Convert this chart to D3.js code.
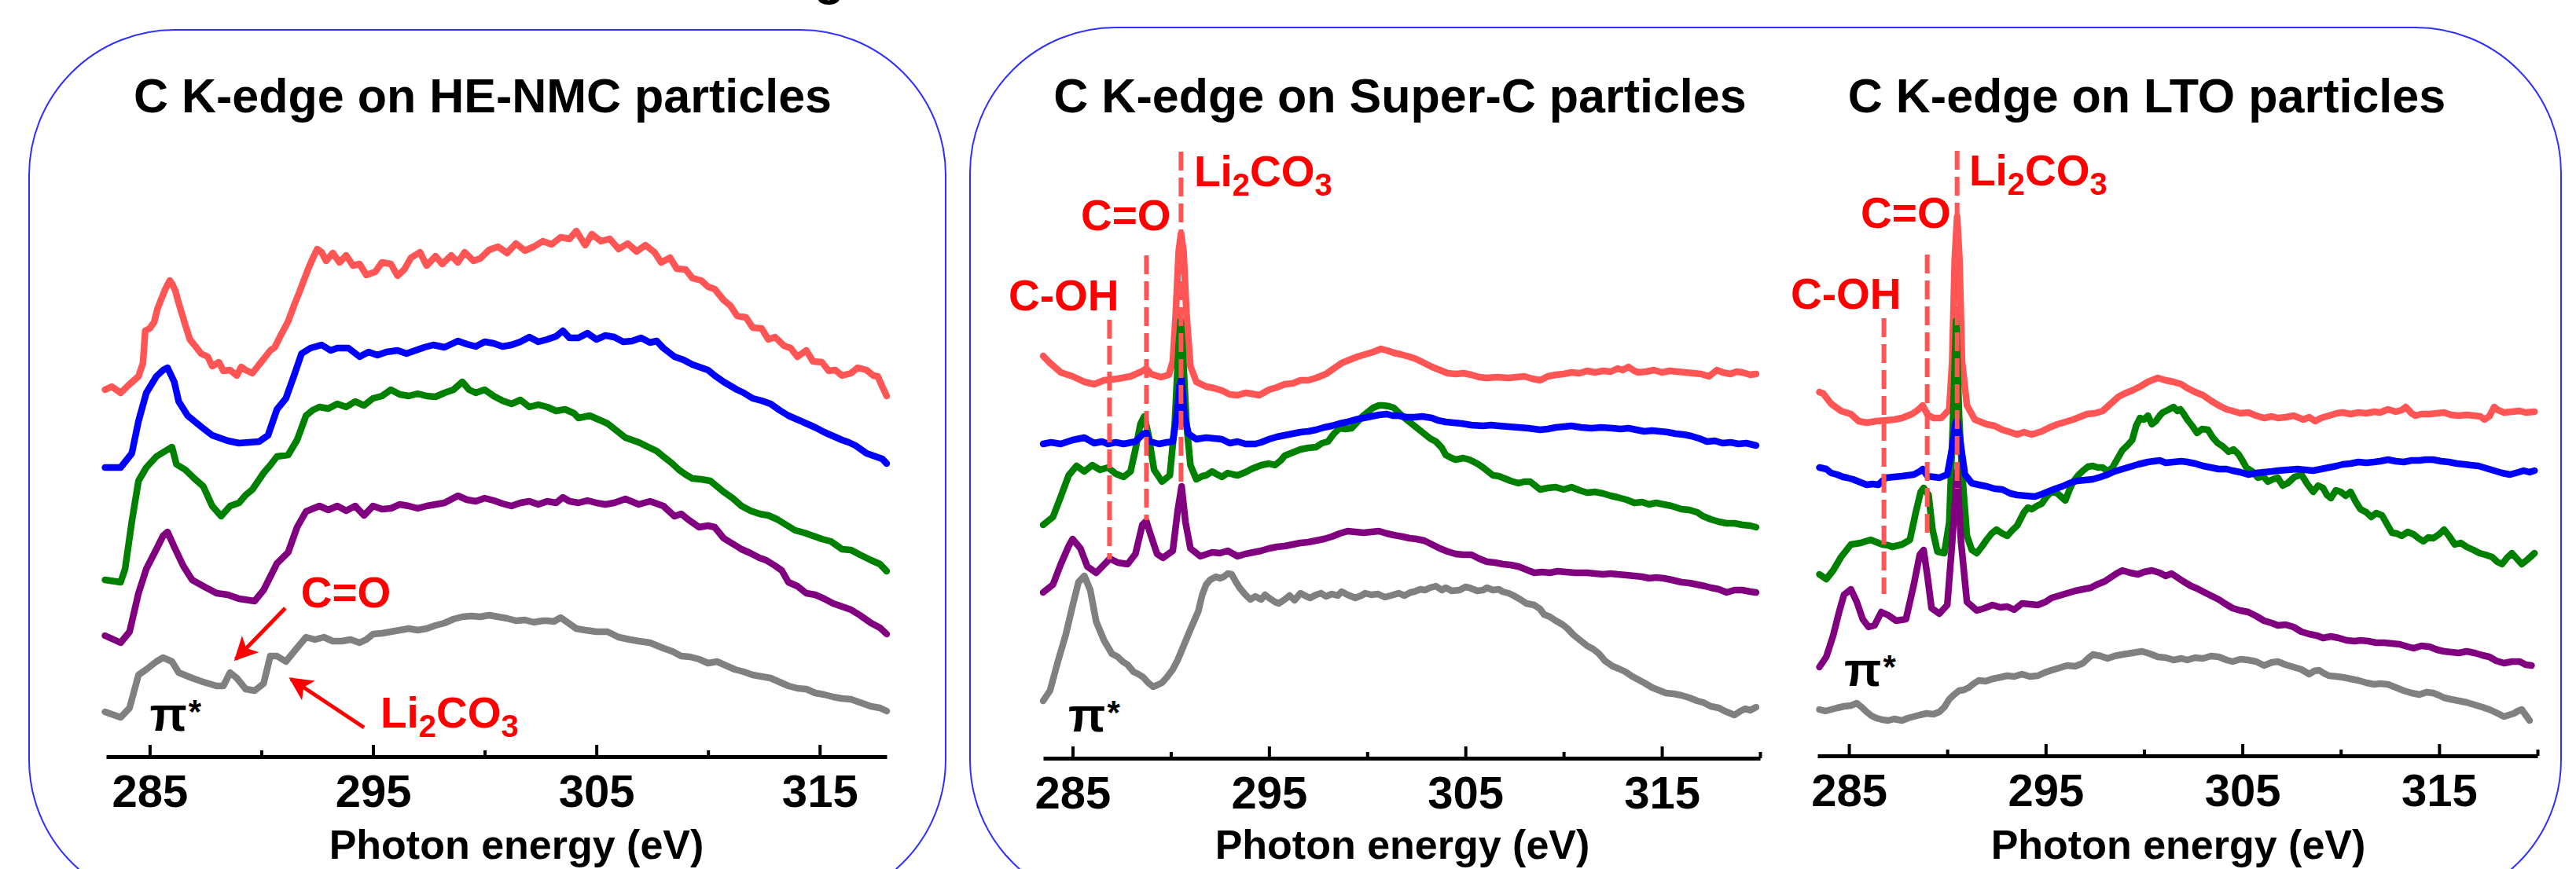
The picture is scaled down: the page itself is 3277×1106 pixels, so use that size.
<!DOCTYPE html>
<html><head><meta charset="utf-8">
<script src="https://cdn.jsdelivr.net/npm/d3@7"></script>
<style>
html,body{margin:0;padding:0;background:#fff;}
svg{display:block;}
text{font-family:"Liberation Sans",Arial,sans-serif;font-weight:bold;}
</style></head>
<body>
<svg id="chart" width="3277" height="1106"></svg>
<script>
// ---------- DATA (photon energy eV, offset intensity a.u.) ----------
const panelTitles = ["C K-edge on HE-NMC particles","C K-edge on Super-C particles","C K-edge on LTO particles"];
const xLabel = "Photon energy (eV)";
const majorTicks = [285,295,305,315];
const minorTicksNMC = [290,300,310];
const minorTicksOther = [290,300,310,320];
const seriesColors = {red:"#ff5555",blue:"#0000ff",green:"#008000",purple:"#800080",gray:"#808080"};

const nmcRed = [[283.0,466],[283.3,470],[283.7,462],[284.1,473],[284.5,483],[284.7,500],[284.8,541],[285.0,544],[285.2,552],[285.35,569],[285.5,580],[285.7,594],[285.9,605],[286.0,601],[286.15,592],[286.3,576],[286.6,548],[286.8,530],[287.0,523],[287.3,512],[287.6,508],[287.8,496],[288.1,501],[288.3,490],[288.6,491],[288.9,484],[289.1,495],[289.3,491],[289.6,487],[289.9,498],[290.1,505],[290.4,516],[290.6,520],[290.9,537],[291.2,553],[291.5,576],[291.7,590],[291.9,605],[292.1,620],[292.3,633],[292.5,645],[292.7,641],[292.9,630],[293.2,640],[293.5,628],[293.8,637],[294.1,624],[294.4,626],[294.7,612],[295.1,616],[295.4,628],[295.8,626],[296.1,611],[296.4,619],[296.7,634],[297.1,641],[297.4,624],[297.8,636],[298.1,626],[298.5,637],[298.8,628],[299.1,641],[299.5,630],[299.8,633],[300.2,644],[300.6,648],[301.0,640],[301.4,652],[301.8,643],[302.2,648],[302.6,655],[303.0,651],[303.4,660],[303.8,658],[304.1,668],[304.5,650],[304.8,664],[305.2,655],[305.6,658],[306.0,645],[306.4,652],[306.8,642],[307.2,650],[307.6,641],[307.9,628],[308.3,634],[308.6,620],[309.0,619],[309.3,608],[309.7,605],[310.0,597],[310.3,594],[310.7,580],[311.0,573],[311.3,560],[311.7,558],[312.0,545],[312.4,544],[312.7,530],[313.0,533],[313.4,522],[313.7,519],[314.0,508],[314.4,516],[314.7,502],[315.1,501],[315.4,490],[315.7,491],[316.0,484],[316.4,487],[316.7,494],[317.1,491],[317.4,484],[317.6,483],[317.8,470],[318.0,458]];
const nmcBlue = [[283.0,367],[283.7,367],[284.2,385],[284.5,426],[284.85,462],[285.3,483],[285.6,491],[285.8,494],[286.1,476],[286.3,451],[286.7,433],[287.3,419],[287.8,408],[288.5,401],[289.0,398],[289.9,400],[290.3,408],[290.7,441],[291.1,455],[291.5,487],[291.8,512],[292.2,519],[292.7,523],[293.1,516],[293.4,519],[293.9,519],[294.4,508],[294.8,514],[295.2,510],[295.6,514],[296.1,516],[296.5,512],[296.9,516],[297.3,520],[297.7,523],[298.2,520],[298.8,528],[299.2,524],[299.6,521],[300.0,527],[300.4,525],[300.8,521],[301.2,523],[301.6,527],[302.0,533],[302.4,527],[302.8,530],[303.2,534],[303.5,541],[303.8,532],[304.2,532],[304.6,538],[305.0,530],[305.4,535],[305.8,533],[306.2,527],[306.6,528],[307.0,532],[307.4,526],[307.7,528],[308.0,519],[308.5,508],[308.9,504],[309.3,498],[309.6,495],[310.0,491],[310.3,484],[310.7,476],[311.0,471],[311.3,466],[311.6,462],[312.0,455],[312.4,452],[312.8,448],[313.2,440],[313.6,433],[314.0,428],[314.4,423],[314.8,418],[315.2,412],[315.6,407],[316.0,402],[316.3,399],[316.6,395],[316.9,389],[317.1,385],[317.5,381],[317.8,378],[318.0,372]];
const nmcGreen = [[283.0,224],[283.7,221],[283.9,238],[284.2,298],[284.5,350],[284.85,367],[285.3,381],[285.7,388],[286.0,393],[286.2,371],[286.6,364],[287.0,353],[287.4,343],[287.8,318],[288.2,305],[288.6,318],[289.0,322],[289.3,332],[289.6,339],[290.1,360],[290.4,370],[290.7,381],[291.2,383],[291.6,402],[292.0,433],[292.3,440],[292.6,444],[293.0,442],[293.4,448],[293.8,444],[294.2,451],[294.6,446],[295.0,455],[295.4,458],[295.8,466],[296.2,460],[296.6,458],[297.0,461],[297.4,458],[297.8,457],[298.2,462],[298.6,466],[299.0,476],[299.3,466],[299.6,462],[300.0,466],[300.4,458],[300.8,452],[301.2,448],[301.6,453],[302.0,444],[302.4,447],[302.8,444],[303.2,439],[303.6,441],[304.0,436],[304.2,430],[304.7,433],[305.1,428],[305.5,423],[305.9,414],[306.3,405],[306.9,399],[307.4,392],[307.7,388],[308.0,381],[308.4,372],[308.7,364],[309.0,358],[309.3,353],[309.7,352],[310.1,350],[310.4,343],[310.7,336],[311.1,328],[311.5,318],[311.9,312],[312.3,308],[312.7,306],[313.1,301],[313.5,294],[313.9,287],[314.3,284],[314.7,280],[315.1,276],[315.5,273],[316.0,263],[316.4,262],[316.8,256],[317.3,249],[317.7,244],[318.0,235]];
const nmcPurple = [[283.0,153],[283.7,144],[284.1,158],[284.5,207],[284.85,238],[285.3,263],[285.6,280],[285.8,285],[286.1,266],[286.5,242],[286.9,224],[287.4,216],[288.0,207],[288.5,205],[289.0,200],[289.7,197],[290.1,211],[290.7,245],[291.2,259],[291.6,291],[292.0,311],[292.6,318],[293.0,313],[293.4,318],[293.8,312],[294.2,318],[294.6,306],[295.0,318],[295.4,314],[295.8,315],[296.2,320],[296.6,318],[297.0,315],[297.4,318],[297.8,320],[298.2,322],[298.8,331],[299.2,326],[299.6,324],[300.0,328],[300.4,325],[300.8,321],[301.2,318],[301.6,322],[302.0,324],[302.4,320],[302.8,324],[303.2,322],[303.5,329],[303.8,324],[304.2,322],[304.6,325],[305.0,322],[305.4,320],[305.8,322],[306.3,327],[306.9,320],[307.4,324],[308.0,318],[308.5,305],[308.8,308],[309.1,301],[309.6,291],[310.0,293],[310.3,291],[310.7,277],[311.1,270],[311.5,263],[311.9,258],[312.3,252],[312.6,249],[313.0,242],[313.3,236],[313.6,221],[314.0,216],[314.4,207],[314.8,205],[315.2,200],[315.6,194],[316.0,190],[316.4,186],[316.8,179],[317.3,169],[317.7,163],[318.0,155]];
const nmcGray = [[283.0,56],[283.7,49],[284.1,61],[284.5,103],[284.85,110],[285.3,120],[285.6,125],[286.0,120],[286.3,106],[286.9,99],[287.4,94],[288.0,89],[288.3,89],[288.6,106],[288.9,99],[289.3,85],[289.7,83],[290.1,92],[290.4,127],[290.7,127],[291.1,120],[291.5,134],[292.0,151],[292.4,148],[292.8,151],[293.2,146],[293.6,146],[294.0,148],[294.4,144],[294.7,148],[295.0,155],[295.4,156],[295.8,158],[296.2,160],[296.6,162],[297.0,160],[297.4,162],[297.8,166],[298.2,169],[298.6,174],[299.0,177],[299.4,178],[299.8,177],[300.2,179],[300.6,177],[301.0,175],[301.4,172],[301.8,173],[302.2,170],[302.6,172],[302.8,172],[303.1,171],[303.4,176],[303.7,170],[304.1,162],[304.5,160],[305.0,158],[305.5,158],[306.0,151],[306.5,148],[306.9,146],[307.4,144],[308.0,137],[308.4,133],[308.8,127],[309.2,126],[309.6,123],[310.0,118],[310.4,120],[310.8,115],[311.2,110],[311.6,107],[312.0,103],[312.4,101],[312.8,99],[313.2,94],[313.6,89],[314.0,86],[314.4,85],[314.8,80],[315.2,78],[315.6,75],[316.0,73],[316.4,72],[316.8,68],[317.3,63],[317.7,61],[318.0,57]];

const scRed = [[283.5,509],[283.85,500],[284.4,488],[285.0,483],[285.6,476],[286.1,473],[286.6,478],[287.3,480],[287.95,483],[288.5,489],[288.75,493],[289.0,486],[289.5,482],[289.9,485],[290.1,502],[290.25,562],[290.4,642],[290.52,665],[290.65,642],[290.8,562],[291.0,496],[291.3,476],[291.8,470],[292.2,468],[292.6,465],[293.0,460],[293.4,459],[293.8,462],[294.1,461],[294.5,459],[295.0,466],[295.4,469],[295.8,473],[296.2,474],[296.6,478],[297.0,478],[297.4,481],[297.9,486],[298.3,493],[298.7,500],[299.1,504],[299.5,508],[299.9,511],[300.3,514],[300.7,518],[301.0,516],[301.35,513],[301.7,511],[302.15,508],[302.5,505],[302.9,500],[303.3,495],[303.7,491],[304.1,487],[304.5,486],[304.9,487],[305.3,485],[305.7,482],[306.1,481],[306.6,482],[307.2,481],[307.6,482],[308.0,483],[308.4,480],[308.8,478],[309.2,483],[309.6,485],[310.0,486],[310.4,488],[310.8,487],[311.2,490],[311.6,488],[312.0,490],[312.4,489],[312.75,493],[313.0,491],[313.3,495],[313.6,490],[313.8,488],[314.2,489],[314.6,491],[315.0,488],[315.4,490],[315.8,489],[316.2,488],[316.6,487],[317.0,486],[317.4,483],[317.8,491],[318.1,488],[318.5,486],[318.8,489],[319.1,488],[319.5,485],[319.8,486]];
const scBlue = [[283.5,397],[283.9,399],[284.4,397],[285.0,402],[285.6,405],[286.1,398],[286.5,400],[286.8,397],[287.2,399],[287.6,397],[288.2,400],[288.6,410],[288.75,411],[288.95,400],[289.4,397],[289.8,399],[290.1,400],[290.3,432],[290.45,472],[290.55,479],[290.7,432],[290.9,410],[291.3,403],[291.8,405],[292.2,404],[292.6,403],[293.0,398],[293.4,400],[293.8,397],[294.3,397],[294.6,399],[295.0,403],[295.4,406],[295.8,408],[296.2,410],[296.6,412],[297.0,413],[297.4,415],[297.8,418],[298.2,420],[298.6,423],[299.0,425],[299.4,428],[299.8,430],[300.2,432],[300.6,434],[301.0,435],[301.3,433],[301.6,433],[302.0,431],[302.4,431],[302.8,432],[303.3,430],[303.6,427],[304.0,425],[304.4,424],[304.8,423],[305.3,421],[305.9,420],[306.3,421],[306.7,420],[307.2,419],[307.7,418],[308.2,417],[308.8,415],[309.2,416],[309.6,418],[310.0,419],[310.4,420],[310.9,418],[311.4,417],[311.9,418],[312.5,417],[312.9,416],[313.3,417],[313.7,415],[314.1,413],[314.5,414],[314.9,413],[315.3,412],[315.7,410],[316.1,409],[316.5,407],[316.9,404],[317.3,400],[317.7,401],[318.1,398],[318.5,399],[318.9,397],[319.3,398],[319.8,395]];
const scGreen = [[283.5,294],[284.0,304],[284.4,330],[284.8,357],[285.2,369],[285.6,362],[286.0,370],[286.4,364],[286.8,367],[287.2,359],[287.6,355],[287.95,362],[288.2,390],[288.45,422],[288.65,432],[288.85,410],[289.15,364],[289.55,349],[289.95,357],[290.2,422],[290.4,522],[290.5,554],[290.6,522],[290.8,422],[291.0,370],[291.3,352],[291.6,356],[291.8,357],[292.1,362],[292.3,359],[292.6,355],[292.9,360],[293.2,358],[293.4,357],[293.8,361],[294.1,365],[294.4,368],[294.6,370],[295.0,372],[295.3,370],[295.6,376],[295.8,382],[296.2,386],[296.6,390],[297.0,392],[297.4,393],[297.7,398],[298.0,400],[298.3,410],[298.6,417],[298.9,416],[299.2,417],[299.5,425],[299.8,433],[300.1,439],[300.3,443],[300.6,446],[300.8,446],[301.1,445],[301.35,443],[301.6,437],[301.9,430],[302.2,424],[302.4,420],[302.7,414],[302.9,410],[303.2,404],[303.5,400],[303.8,392],[304.0,383],[304.3,379],[304.5,377],[304.9,379],[305.2,377],[305.6,372],[305.9,367],[306.2,361],[306.4,357],[306.7,356],[306.9,354],[307.3,350],[307.7,347],[308.0,349],[308.3,349],[308.6,343],[308.8,339],[309.2,341],[309.6,342],[310.0,339],[310.4,342],[310.8,338],[311.2,335],[311.6,336],[312.0,334],[312.4,331],[312.75,329],[313.2,326],[313.6,322],[314.0,323],[314.35,320],[314.7,322],[315.1,320],[315.5,318],[316.0,314],[316.4,313],[316.8,310],[317.1,305],[317.5,301],[317.9,298],[318.3,296],[318.7,296],[319.1,294],[319.5,293],[319.8,291]];
const scPurple = [[283.5,208],[284.0,218],[284.4,244],[284.8,267],[285.0,276],[285.4,264],[285.75,241],[286.2,233],[286.55,242],[286.9,251],[287.3,246],[287.8,244],[288.2,257],[288.55,294],[288.75,299],[288.9,287],[289.3,257],[289.6,252],[290.1,261],[290.35,312],[290.55,343],[290.75,297],[291.0,264],[291.5,254],[292.1,259],[292.5,258],[292.9,261],[293.4,254],[293.8,257],[294.2,259],[294.6,261],[295.0,264],[295.4,266],[295.8,267],[296.2,269],[296.6,271],[297.0,272],[297.4,274],[297.8,276],[298.2,279],[298.6,283],[299.0,286],[299.4,285],[299.8,284],[300.2,285],[300.6,286],[301.0,283],[301.35,281],[301.8,279],[302.15,277],[302.5,276],[302.9,274],[303.3,269],[303.7,264],[304.1,260],[304.5,257],[304.9,256],[305.3,256],[305.7,251],[306.1,247],[306.5,246],[306.9,244],[307.3,243],[307.7,241],[308.1,237],[308.5,233],[308.9,234],[309.3,233],[309.7,235],[310.1,234],[310.6,233],[311.2,233],[311.6,232],[312.0,231],[312.4,232],[312.75,231],[313.2,230],[313.6,229],[314.0,228],[314.35,226],[314.7,227],[315.1,226],[315.5,224],[316.0,221],[316.4,220],[316.8,218],[317.2,216],[317.5,214],[317.9,212],[318.3,208],[318.7,211],[319.1,211],[319.5,209],[319.8,208]];
const scGray = [[283.5,70],[283.85,83],[284.25,120],[284.65,154],[285.0,191],[285.3,221],[285.6,229],[285.9,211],[286.2,171],[286.6,147],[287.0,130],[287.3,126],[287.55,120],[287.8,116],[288.1,107],[288.35,104],[288.6,100],[288.85,93],[289.1,88],[289.3,90],[289.55,93],[289.8,100],[290.1,110],[290.35,122],[290.6,137],[291.0,161],[291.4,184],[291.6,205],[291.8,218],[292.0,224],[292.3,228],[292.5,226],[292.7,228],[292.9,232],[293.1,231],[293.3,222],[293.5,214],[293.8,205],[294.05,199],[294.3,203],[294.6,199],[294.8,205],[295.0,201],[295.3,196],[295.5,194],[295.8,199],[296.05,204],[296.3,198],[296.6,207],[296.9,203],[297.1,201],[297.4,205],[297.65,207],[297.9,203],[298.2,206],[298.5,204],[298.7,209],[299.0,205],[299.4,201],[299.7,204],[299.9,207],[300.2,205],[300.55,206],[300.9,202],[301.2,204],[301.6,207],[301.9,204],[302.2,208],[302.4,209],[302.7,212],[302.95,211],[303.2,214],[303.5,216],[303.8,211],[304.0,214],[304.3,210],[304.7,211],[305.0,215],[305.2,214],[305.6,210],[305.9,211],[306.1,214],[306.4,211],[306.7,212],[306.9,209],[307.2,207],[307.45,204],[307.8,199],[308.1,194],[308.5,192],[308.8,187],[309.0,180],[309.3,177],[309.6,172],[309.95,167],[310.2,162],[310.5,154],[310.9,146],[311.2,140],[311.5,136],[311.8,130],[312.1,121],[312.5,114],[312.8,111],[313.15,107],[313.5,101],[313.8,97],[314.1,93],[314.5,87],[314.8,84],[315.2,80],[315.6,79],[316.0,77],[316.4,74],[316.8,70],[317.1,68],[317.5,63],[317.9,61],[318.2,57],[318.5,54],[318.7,52],[319.0,57],[319.25,60],[319.5,58],[319.8,62]];

const ltoRed = [[283.5,463],[283.7,461],[284.1,448],[284.6,439],[285.1,435],[285.5,426],[285.9,424],[286.4,426],[286.9,427],[287.3,428],[287.7,430],[288.2,435],[288.5,440],[288.75,446],[289.0,434],[289.3,430],[289.7,430],[290.1,441],[290.25,502],[290.38,632],[290.5,686],[290.62,632],[290.75,502],[291.0,446],[291.4,428],[291.7,425],[292.0,422],[292.4,420],[292.8,415],[293.2,412],[293.55,409],[293.9,412],[294.3,409],[294.8,413],[295.2,418],[295.6,422],[296.0,425],[296.4,428],[296.8,432],[297.1,435],[297.5,436],[297.9,439],[298.3,448],[298.7,457],[299.0,461],[299.4,465],[299.8,470],[300.2,476],[300.7,481],[301.1,478],[301.5,476],[301.9,473],[302.2,468],[302.6,463],[303.0,459],[303.4,452],[303.8,446],[304.2,441],[304.5,439],[304.9,436],[305.3,437],[305.7,433],[306.1,430],[306.5,432],[306.8,430],[307.2,431],[307.6,433],[308.1,428],[308.4,431],[308.7,426],[309.0,430],[309.4,433],[309.8,436],[310.1,437],[310.5,435],[310.9,437],[311.3,436],[311.7,438],[312.0,437],[312.4,441],[312.8,438],[313.1,440],[313.3,444],[313.6,436],[313.8,433],[314.1,435],[314.5,435],[314.9,436],[315.25,437],[315.6,434],[316.0,433],[316.4,434],[316.8,433],[317.1,432],[317.3,428],[317.55,432],[317.8,444],[318.0,440],[318.3,437],[318.7,438],[319.1,439],[319.4,437],[319.85,438]];
const ltoBlue = [[283.5,367],[283.85,365],[284.1,360],[284.4,358],[284.7,355],[284.9,354],[285.2,352],[285.4,350],[285.7,347],[285.9,345],[286.2,346],[286.5,345],[286.7,350],[286.9,354],[287.3,355],[287.7,356],[288.0,357],[288.3,358],[288.6,362],[288.75,365],[289.0,356],[289.3,355],[289.6,354],[290.0,358],[290.25,392],[290.4,422],[290.5,427],[290.65,402],[290.9,358],[291.25,347],[291.6,345],[292.0,343],[292.4,340],[292.8,339],[293.2,334],[293.55,332],[294.0,331],[294.45,330],[294.8,333],[295.1,336],[295.5,340],[295.85,343],[296.2,347],[296.6,350],[297.0,351],[297.4,352],[297.8,355],[298.15,358],[298.5,362],[298.9,365],[299.3,368],[299.7,371],[300.2,374],[300.5,375],[300.8,376],[301.1,373],[301.5,374],[301.9,375],[302.2,374],[302.6,372],[303.0,369],[303.4,367],[303.8,365],[304.2,365],[304.5,363],[304.9,361],[305.3,358],[305.7,360],[306.1,361],[306.5,362],[306.8,363],[307.3,364],[307.8,365],[308.2,364],[308.6,363],[309.0,365],[309.4,367],[309.8,369],[310.1,371],[310.5,372],[310.9,374],[311.3,373],[311.7,374],[312.0,375],[312.4,377],[312.8,375],[313.2,374],[313.6,376],[314.0,376],[314.3,377],[314.7,377],[315.1,375],[315.5,374],[315.9,372],[316.3,371],[316.6,370],[317.0,369],[317.4,366],[317.8,363],[318.2,360],[318.6,358],[318.9,360],[319.3,363],[319.6,361],[319.85,363]];
const ltoGreen = [[283.5,231],[283.85,225],[284.2,236],[284.6,253],[285.1,269],[285.6,271],[286.1,275],[286.4,272],[286.7,269],[287.0,268],[287.2,266],[287.7,269],[288.1,275],[288.4,310],[288.65,336],[288.8,341],[289.05,332],[289.25,288],[289.5,260],[289.85,258],[290.1,297],[290.3,433],[290.45,554],[290.6,433],[290.75,362],[291.0,280],[291.25,262],[291.5,258],[291.75,266],[292.0,275],[292.25,283],[292.5,288],[292.8,283],[293.05,280],[293.3,287],[293.55,293],[293.9,310],[294.1,316],[294.3,314],[294.55,318],[294.8,321],[295.05,330],[295.3,336],[295.6,334],[296.0,325],[296.2,338],[296.4,349],[296.65,357],[296.9,363],[297.15,368],[297.4,369],[297.65,367],[297.9,367],[298.15,362],[298.4,367],[298.65,378],[298.9,389],[299.15,395],[299.4,402],[299.6,420],[299.8,430],[300.0,428],[300.2,433],[300.4,422],[300.6,426],[300.8,433],[300.95,437],[301.2,440],[301.5,444],[301.7,439],[301.85,441],[302.0,436],[302.2,428],[302.45,420],[302.7,411],[302.95,416],[303.25,415],[303.5,405],[303.75,398],[304.0,394],[304.3,387],[304.55,390],[304.8,384],[305.0,376],[305.2,367],[305.5,362],[305.8,354],[306.05,356],[306.3,349],[306.55,352],[306.8,354],[307.05,344],[307.3,347],[307.65,355],[308.0,358],[308.3,346],[308.6,336],[308.85,344],[309.1,341],[309.3,332],[309.5,328],[309.75,338],[310.0,336],[310.25,331],[310.5,336],[310.75,324],[311.0,314],[311.3,310],[311.55,304],[311.8,309],[312.1,306],[312.35,295],[312.6,284],[312.85,283],[313.1,280],[313.4,285],[313.7,282],[313.95,277],[314.2,273],[314.45,278],[314.7,277],[315.0,282],[315.25,288],[315.5,280],[315.8,269],[316.1,271],[316.4,266],[316.75,262],[317.05,258],[317.35,256],[317.7,253],[317.95,247],[318.2,244],[318.45,252],[318.7,258],[318.95,251],[319.2,244],[319.5,250],[319.85,258]];
const ltoPurple = [[283.5,113],[283.85,126],[284.2,153],[284.5,183],[284.75,205],[285.1,212],[285.4,196],[285.7,174],[286.0,164],[286.3,166],[286.65,183],[287.0,179],[287.4,172],[287.9,174],[288.3,218],[288.6,256],[288.8,262],[289.0,227],[289.2,188],[289.6,181],[290.0,192],[290.25,272],[290.5,362],[290.7,272],[291.0,196],[291.5,185],[291.9,188],[292.3,192],[292.7,189],[293.05,190],[293.4,186],[293.8,194],[294.2,193],[294.6,192],[295.0,196],[295.3,201],[295.7,204],[296.1,207],[296.5,210],[296.9,212],[297.3,214],[297.6,218],[298.0,222],[298.3,227],[298.6,232],[298.9,236],[299.3,233],[299.7,231],[300.0,234],[300.4,236],[300.8,233],[301.1,229],[301.4,232],[301.7,227],[302.0,222],[302.4,216],[302.7,213],[303.0,209],[303.4,204],[303.8,199],[304.1,194],[304.5,188],[304.9,185],[305.3,183],[305.7,178],[306.1,172],[306.5,169],[306.8,166],[307.2,167],[307.6,164],[308.0,158],[308.4,155],[308.8,153],[309.1,150],[309.5,152],[309.9,150],[310.3,147],[310.7,146],[311.0,147],[311.4,146],[311.8,144],[312.2,144],[312.6,143],[313.0,142],[313.4,139],[313.7,137],[314.1,140],[314.5,139],[314.9,135],[315.25,133],[315.6,132],[316.0,131],[316.4,133],[316.8,131],[317.2,128],[317.55,126],[317.9,121],[318.3,118],[318.7,120],[319.1,120],[319.4,116],[319.7,115]];
const ltoGray = [[283.5,59],[283.8,57],[284.1,59],[284.4,61],[284.75,63],[285.1,64],[285.4,67],[285.65,62],[285.9,56],[286.15,51],[286.4,48],[286.7,46],[287.0,45],[287.3,47],[287.7,45],[288.0,48],[288.3,50],[288.6,52],[288.95,54],[289.3,53],[289.6,56],[289.85,62],[290.1,72],[290.35,78],[290.6,83],[290.85,84],[291.1,87],[291.35,92],[291.6,96],[291.95,95],[292.3,98],[292.7,100],[293.05,102],[293.4,101],[293.8,104],[294.2,101],[294.6,102],[294.95,106],[295.3,109],[295.7,112],[296.1,115],[296.5,114],[296.9,118],[297.15,124],[297.4,129],[297.8,127],[298.15,124],[298.5,127],[298.9,129],[299.4,131],[299.9,133],[300.3,130],[300.7,126],[301.1,125],[301.5,122],[301.9,124],[302.2,122],[302.6,125],[303.0,124],[303.4,127],[303.8,126],[304.2,122],[304.5,120],[304.9,123],[305.3,122],[305.7,120],[306.1,115],[306.5,119],[306.8,120],[307.2,116],[307.6,113],[308.0,110],[308.4,104],[308.65,108],[308.9,109],[309.15,105],[309.4,102],[309.8,101],[310.1,100],[310.5,98],[310.9,96],[311.3,93],[311.7,91],[312.0,92],[312.4,91],[312.8,87],[313.2,83],[313.6,80],[314.0,78],[314.35,81],[314.7,80],[315.0,77],[315.25,74],[315.6,72],[316.0,70],[316.4,68],[316.8,65],[317.2,62],[317.55,59],[317.9,55],[318.3,50],[318.55,52],[318.8,54],[319.0,57],[319.2,59],[319.4,52],[319.6,45]];

// annotation positions in data units (eV, a.u.)
const nmcArrows = [{from:[291.07,188],to:[288.85,123]},{from:[294.6,36],to:[291.32,98]}];
const nmcLabels = [{t:"C=O",x:291.77,y:189},{t:"Li2CO3",x:295.33,y:36},{t:"pi",x:285.0,y:32}];
const scLines = [{x:286.88,y0:250,y1:555},{x:288.76,y0:300,y1:637},{x:290.52,y0:340,y1:769}];
const scLabels = [{t:"C-OH",x:281.74,y:567},{t:"C=O",x:285.42,y:669},{t:"Li2CO3",x:291.18,y:725},{t:"pi",x:284.78,y:31}];
const ltoLines = [{x:286.78,y0:206,y1:557},{x:288.98,y0:280,y1:638},{x:290.5,y0:340,y1:770}];
const ltoLabels = [{t:"C-OH",x:282.04,y:569},{t:"C=O",x:285.6,y:672},{t:"Li2CO3",x:291.11,y:726},{t:"pi",x:284.76,y:89}];

// ---------- DRAW ----------
const svg = d3.select("#chart");
svg.append("rect").attr("width",3277).attr("height",1106).attr("fill","#fff");

// frames
svg.append("rect").attr("x",37).attr("y",38).attr("width",1166).attr("height",1114)
  .attr("rx",185).attr("ry",185).attr("fill","none").attr("stroke","#2f2fff").attr("stroke-width",2);
svg.append("rect").attr("x",1234).attr("y",35).attr("width",2024).attr("height",1117)
  .attr("rx",185).attr("ry",185).attr("fill","none").attr("stroke","#2f2fff").attr("stroke-width",2);

// cut-off header glyph at top (only its descender is visible in the reference)
svg.append("text").attr("x",1055).attr("y",-7).attr("text-anchor","middle")
  .attr("font-size",62).attr("fill","#000").text("g");

const defs = svg.append("defs");
defs.append("marker").attr("id","arrowRed").attr("viewBox","0 0 10 10")
  .attr("refX",9).attr("refY",5).attr("markerWidth",6).attr("markerHeight",6)
  .attr("orient","auto").append("path").attr("d","M0,0 L10,5 L0,10 L2.5,5 z").attr("fill","#ff0000");

const panels = [
  {title:panelTitles[0], titleX:614, xlabelX:657, domain:[283.05,318], range:[135,1128], axisY:963,
   minor:minorTicksNMC, series:[[nmcRed,"red"],[nmcGreen,"green"],[nmcBlue,"blue"],[nmcPurple,"purple"],[nmcGray,"gray"]],
   lines:[], labels:nmcLabels, arrows:nmcArrows},
  {title:panelTitles[1], titleX:1781, xlabelX:1784, domain:[283.5,320], range:[1327,2239], axisY:965,
   minor:minorTicksOther, series:[[scRed,"red"],[scGreen,"green"],[scBlue,"blue"],[scPurple,"purple"],[scGray,"gray"]],
   lines:scLines, labels:scLabels, arrows:[]},
  {title:panelTitles[2], titleX:2731, xlabelX:2771, domain:[283.4,320], range:[2312,3228], axisY:962,
   minor:minorTicksOther, series:[[ltoRed,"red"],[ltoGreen,"green"],[ltoBlue,"blue"],[ltoPurple,"purple"],[ltoGray,"gray"]],
   lines:ltoLines, labels:ltoLabels, arrows:[]}
];

const y = d3.scaleLinear().domain([0,800]).range([962,162]);

panels.forEach(p => {
  const x = d3.scaleLinear().domain(p.domain).range(p.range);
  const g = svg.append("g");

  g.append("text").attr("x",p.titleX).attr("y",143).attr("text-anchor","middle")
    .attr("font-size",61).attr("fill","#000").text(p.title);

  const line = d3.line().x(d=>x(d[0])).y(d=>y(d[1]));
  p.series.forEach(([data,c]) => {
    g.append("path").datum(data).attr("d",line).attr("fill","none")
      .attr("stroke",seriesColors[c]).attr("stroke-width",8.5)
      .attr("stroke-linejoin","round").attr("stroke-linecap","round");
  });

  p.lines.forEach(l => {
    g.append("line").attr("x1",x(l.x)).attr("x2",x(l.x)).attr("y1",y(l.y1)).attr("y2",y(l.y0))
      .attr("stroke","#ff5555").attr("stroke-width",6).attr("stroke-dasharray","24,9");
  });

  p.arrows.forEach(a => {
    g.append("line").attr("x1",x(a.from[0])).attr("y1",y(a.from[1]))
      .attr("x2",x(a.to[0])).attr("y2",y(a.to[1]))
      .attr("stroke","#ff0000").attr("stroke-width",5).attr("marker-end","url(#arrowRed)");
  });

  p.labels.forEach(lb => {
    if (lb.t === "pi") {
      const t = g.append("text").attr("x",x(lb.x)).attr("y",y(lb.y)).attr("font-size",62).attr("fill","#000");
      t.append("tspan").text("π");
      t.append("tspan").attr("font-size",42).attr("dx",2).attr("dy",-10).text("*");
    } else if (lb.t === "Li2CO3") {
      const t = g.append("text").attr("x",x(lb.x)).attr("y",y(lb.y)).attr("font-size",55).attr("fill","#ff0000");
      t.append("tspan").text("Li");
      t.append("tspan").attr("font-size",40).attr("dy",12).text("2");
      t.append("tspan").attr("dy",-12).text("CO");
      t.append("tspan").attr("font-size",40).attr("dy",12).text("3");
    } else {
      g.append("text").attr("x",x(lb.x)).attr("y",y(lb.y)).attr("font-size",55)
        .attr("fill","#ff0000").text(lb.t);
    }
  });

  // axis
  const ax = g.append("g").attr("transform",`translate(0,${p.axisY})`)
    .call(d3.axisBottom(x).tickValues(majorTicks).tickFormat(d3.format("d"))
      .tickSizeInner(-15).tickSizeOuter(0).tickPadding(23));
  ax.select(".domain").attr("stroke","#000").attr("stroke-width",5);
  ax.selectAll(".tick line").attr("stroke","#000").attr("stroke-width",4);
  ax.selectAll(".tick text").attr("font-size",58).attr("fill","#000")
    .attr("font-family","'Liberation Sans',Arial,sans-serif").attr("font-weight","bold");
  const mx = g.append("g").attr("transform",`translate(0,${p.axisY})`)
    .call(d3.axisBottom(x).tickValues(p.minor).tickFormat("").tickSizeInner(-8).tickSizeOuter(0));
  mx.select(".domain").remove();
  mx.selectAll(".tick line").attr("stroke","#000").attr("stroke-width",4);

  g.append("text").attr("x",p.xlabelX).attr("y",1093).attr("text-anchor","middle")
    .attr("font-size",52).attr("fill","#000").text(xLabel);
});
</script>
</body></html>
